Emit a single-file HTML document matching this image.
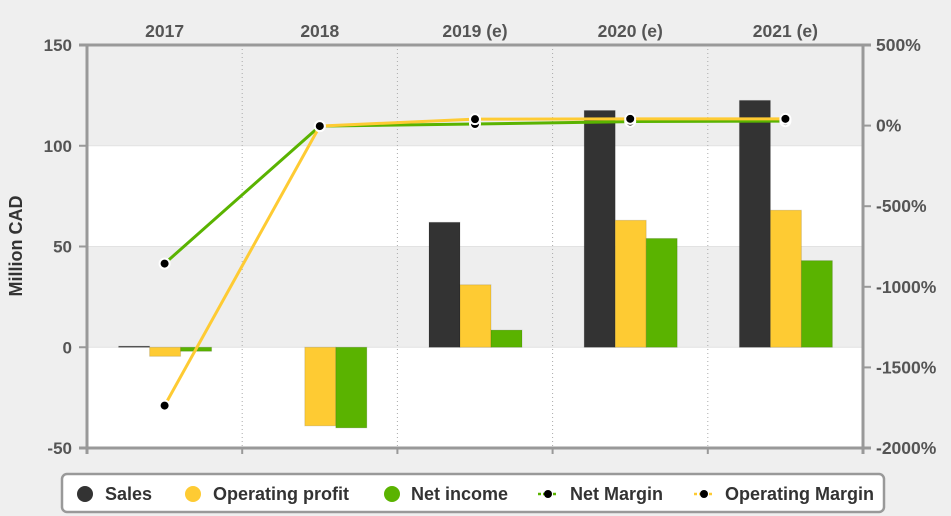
<!DOCTYPE html>
<html><head><meta charset="utf-8"><style>
body{margin:0;background:#efefef;}
svg{display:block;font-family:"Liberation Sans",Arial,sans-serif;font-weight:bold;}
</style></head><body>
<svg id="chart" width="951" height="516" viewBox="0 0 951 516">
<rect x="0" y="0" width="951" height="516" fill="#efefef"/>
<g id="bands"></g>
<g id="grid"></g>
<g id="bars"></g>
<g id="lines"></g>
<g id="axes"></g>
<text x="22" y="246" transform="rotate(-90 22 246)" text-anchor="middle" font-size="18" fill="#333">Million CAD</text>
<g>
<rect x="62" y="474" width="822" height="38" rx="5" fill="#fff" stroke="#999" stroke-width="2.5"/>
<g><circle cx="85" cy="494" r="8" fill="#333"/><text x="105" y="500" font-size="18" fill="#333">Sales</text></g>
<g><circle cx="193" cy="494" r="8" fill="#fecb33"/><text x="213" y="500" font-size="18" fill="#333">Operating profit</text></g>
<g><circle cx="392" cy="494" r="8" fill="#5ab300"/><text x="411" y="500" font-size="18" fill="#333">Net income</text></g>
<g><line x1="538" y1="494" x2="558" y2="494" stroke="#5ab300" stroke-width="2.5" stroke-dasharray="3,2"/><circle cx="548" cy="494" r="4" fill="#000"/><text x="570" y="500" font-size="18" fill="#333">Net Margin</text></g>
<g><line x1="694" y1="494" x2="714" y2="494" stroke="#fecb33" stroke-width="2.5" stroke-dasharray="3,2"/><circle cx="704" cy="494" r="4" fill="#000"/><text x="725" y="500" font-size="18" fill="#333">Operating Margin</text></g>
</g>
</svg>
<script>
const categories = ["2017","2018","2019 (e)","2020 (e)","2021 (e)"];
const sales = [0.5, 0, 62, 117.5, 122.5];
const operatingProfit = [-4.5, -39, 31, 63, 68];
const netIncome = [-2, -40, 8.5, 54, 43];
const netMargin = [-856, -3, 10, 25, 28];
const operatingMargin = [-1737, -3, 40, 42, 42];
const leftTicks = [150, 100, 50, 0, -50];
const rightTicks = [500, 0, -500, -1000, -1500, -2000];

const NS = "http://www.w3.org/2000/svg";
const L = 87, R = 863, T = 45, B = 448;
const band = (R - L) / categories.length;
const yL = v => T + (150 - v) / 200 * (B - T);
const yR = v => T + (500 - v) / 2500 * (B - T);
const xC = i => L + band * (i + 0.5);
function mk(tag, attrs, parent, text) {
  const e = document.createElementNS(NS, tag);
  for (const k in attrs) e.setAttribute(k, attrs[k]);
  if (text !== undefined) e.textContent = text;
  document.getElementById(parent).appendChild(e);
  return e;
}
for (let i = 0; i < 4; i++) {
  const top = yL(leftTicks[i]), bot = yL(leftTicks[i + 1]);
  const b = mk("rect", {x: L, y: top, width: R - L, height: bot - top, fill: i % 2 === 0 ? "#eeeeee" : "#ffffff"}, "bands");
  
  
}
for (let i = 1; i < 4; i++) {
  const g = mk("line", {x1: L, x2: R, y1: yL(leftTicks[i]), y2: yL(leftTicks[i]), stroke: "#e2e2e2", "stroke-width": 1}, "grid");
  
  
}
for (let i = 1; i < categories.length; i++) {
  const x = L + band * i;
  const g = mk("line", {x1: x, x2: x, y1: T, y2: B, stroke: "#aaa", "stroke-width": 1, "stroke-dasharray": "1,3"}, "grid");
  
  
}
const bw = 31;
const series = [[sales, "#333333", "sales"], [operatingProfit, "#fecb33", "operating-profit"], [netIncome, "#5ab300", "net-income"]];
categories.forEach((c, i) => {
  series.forEach((s, j) => {
    const v = s[0][i];
    if (v === 0) return;
    const x = xC(i) - 46 + j * bw;
    const y0 = yL(0), y1 = yL(v);
    const r = mk("rect", {x: x, y: Math.min(y0, y1), width: bw, height: Math.max(1, Math.abs(y1 - y0)), fill: s[1], stroke: "rgba(0,0,0,0.12)", "stroke-width": 1}, "bars");
    
    
  });
});
[[netMargin, "#5ab300", "net-margin"], [operatingMargin, "#fecb33", "operating-margin"]].forEach(s => {
  const pts = s[0].map((v, i) => xC(i) + "," + yR(v)).join(" ");
  const p = mk("polyline", {points: pts, fill: "none", stroke: s[1], "stroke-width": 3}, "lines");
  
  
});
[netMargin, operatingMargin].forEach((arr, k) => {
  arr.forEach((v, i) => {
    const d = mk("circle", {cx: xC(i), cy: yR(v), r: 5, fill: "#000", stroke: "#fff", "stroke-width": 2}, "lines");
    
    
  });
});
const ax = (a) => mk("line", a, "axes");
let e;
e = ax({x1: L, x2: L, y1: T, y2: B + 6, stroke: "#999", "stroke-width": 3});


e = ax({x1: R, x2: R, y1: T, y2: B + 6, stroke: "#999", "stroke-width": 3});


e = ax({x1: L - 8, x2: R + 8, y1: T, y2: T, stroke: "#999", "stroke-width": 3});


e = ax({x1: L - 8, x2: R + 8, y1: B, y2: B, stroke: "#999", "stroke-width": 3});


for (let i = 1; i < categories.length; i++) {
  e = ax({x1: L + band * i, x2: L + band * i, y1: B, y2: B + 6, stroke: "#999", "stroke-width": 2});
  
  
}
leftTicks.forEach(v => {
  e = ax({x1: L - 8, x2: L, y1: yL(v), y2: yL(v), stroke: "#999", "stroke-width": 2});
  
  
  e = mk("text", {x: 72, y: yL(v) + 6, "text-anchor": "end", "font-size": 17, fill: "#555"}, "axes", String(v));
  
  
});
rightTicks.forEach(v => {
  e = ax({x1: R, x2: R + 8, y1: yR(v), y2: yR(v), stroke: "#999", "stroke-width": 2});
  
  
  e = mk("text", {x: 876, y: yR(v) + 6, "font-size": 17.5, fill: "#555"}, "axes", v + "%");
  
  
});
categories.forEach((c, i) => {
  e = mk("text", {x: xC(i), y: 37, "text-anchor": "middle", "font-size": 17.5, fill: "#555"}, "axes", c);
  
  
});
</script>
</body></html>
